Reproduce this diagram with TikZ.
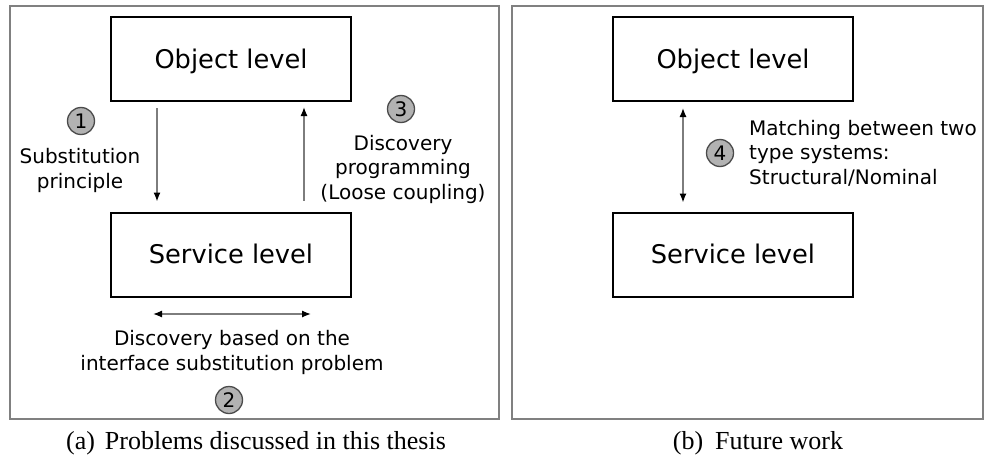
\documentclass[tikz,border=0pt]{standalone}
\usepackage{fontspec}
\setmainfont{DejaVu Sans}
\newfontfamily\capfont{Liberation Serif}
\usetikzlibrary{arrows.meta}
\definecolor{framegray}{RGB}{128,128,128}
\definecolor{shaftgray}{RGB}{125,125,125}
\definecolor{circfill}{RGB}{178,178,178}
\definecolor{circline}{RGB}{75,75,75}
\tikzset{
  panel/.style={draw=framegray, line width=1.4pt},
  levelbox/.style={draw=black, line width=2pt, minimum width=240pt, minimum height=84pt,
    inner sep=0pt, font=\fontsize{25.7}{30}\selectfont, text height=18.7pt, text depth=0pt},
  numcirc/.style={circle, draw=circline, fill=circfill, line width=1.3pt, minimum size=27pt,
    inner sep=0pt, font=\fontsize{20}{24}\selectfont, text height=14.6pt, text depth=0pt},
  lbl/.style={font=\fontsize{20}{24.5}\selectfont, align=center, inner sep=0pt, anchor=base},
  captext/.style={font=\capfont\fontsize{26}{30}\selectfont, inner sep=0pt, anchor=base},
  arr/.style={draw=shaftgray, line width=1.3pt, -{Latex[length=9pt,width=7pt,color=black]}},
  darr/.style={draw=shaftgray, line width=1.3pt, {Latex[length=9pt,width=7pt,color=black]}-{Latex[length=9pt,width=7pt,color=black]}},
}
\begin{document}
\begin{tikzpicture}[x=1pt,y=-1pt]
\useasboundingbox (0,0) rectangle (985,463);
% panels
\draw[panel] (10,6) rectangle (499,419);
\draw[panel] (512,6) rectangle (983,419);
% left panel
\node[levelbox] (obj1) at (231,59) {Object level};
\node[levelbox] (srv1) at (231,254.5) {Service level};
\draw[arr] ([xshift=-74pt,yshift=-6pt]obj1.south) -- ([xshift=-74pt,yshift=10pt]srv1.north);
\draw[arr] ([xshift=73pt,yshift=11pt]srv1.north) -- ([xshift=73pt,yshift=-5pt]obj1.south);
\coordinate (dl) at (153,314);
\coordinate (dr) at (311,314);
\draw[darr] (dl) -- (dr);
\node[numcirc] (c1) at (81,121) {1};
\node[lbl] (t1) at (80,188) {Substitution\\principle};
\node[numcirc] (c3) at (401,109) {3};
\node[lbl] (t3) at (403,199) {Discovery\\programming\\(Loose coupling)};
\node[lbl] (t2) at (232,370) {Discovery based on the\\interface substitution problem};
\node[numcirc] (c2) at (229,400) {2};
% right panel
\node[levelbox] (obj2) at (733,59) {Object level};
\node[levelbox] (srv2) at (733,254.5) {Service level};
\draw[darr] ([xshift=-50pt,yshift=-6pt]obj2.south) -- ([xshift=-50pt,yshift=9pt]srv2.north);
\node[numcirc] (c4) at (720,153) {4};
\node[lbl, align=left, anchor=base west] (t4) at (749,184) {Matching between two\\type systems:\\Structural/Nominal};
% captions
\node[captext] (capa) at (256,449) {(a)\hspace{10pt}Problems discussed in this thesis};
\node[captext] (capb) at (758,449) {(b)\hspace{12pt}Future work};
\end{tikzpicture}
\end{document}
